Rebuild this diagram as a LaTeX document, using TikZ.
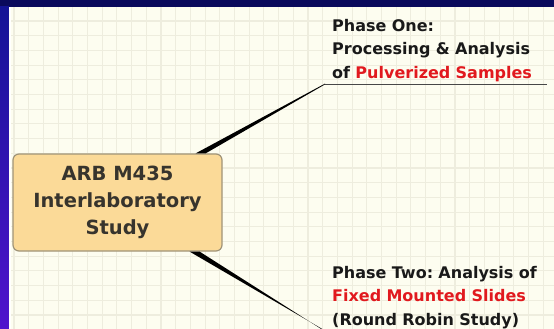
\documentclass[tikz,border=0pt]{standalone}
\usepackage{fontspec}
\setmainfont{DejaVu Sans}
\usetikzlibrary{positioning,calc}
\definecolor{navy}{RGB}{10,10,92}
\definecolor{stripetop}{RGB}{20,20,150}
\definecolor{stripebot}{RGB}{80,20,205}
\definecolor{paper}{RGB}{253,253,240}
\definecolor{gridcol}{RGB}{238,237,222}
\definecolor{boxfill}{RGB}{251,218,152}
\definecolor{boxline}{RGB}{160,148,120}
\definecolor{boxtext}{RGB}{55,52,45}
\definecolor{leaftext}{RGB}{25,25,25}
\definecolor{hot}{RGB}{225,25,30}
\frenchspacing

\begin{document}
\begin{tikzpicture}[x=1pt,y=-1pt,
hub/.style={draw=boxline,line width=1.2pt,fill=boxfill,rounded corners=6pt,minimum width=209pt,minimum height=97pt,align=center,font=\fontsize{19.5}{27}\selectfont\bfseries,text=boxtext},
leaf/.style={anchor=south west,align=left,text width=216pt,inner xsep=7pt,inner ysep=2pt,font=\fontsize{16}{23.5}\selectfont\bfseries,text=leaftext},
branch/.style={fill=black},
gridline/.style={draw=gridcol,line width=1.1pt}]
\useasboundingbox (0,0) rectangle (554,329);
\clip (0,0) rectangle (554,329);
% background
\fill[paper] (0,0) rectangle (554,329);
\foreach \gx in {14,28.7,...,554} \draw[gridline] (\gx,7) -- (\gx,329);
\foreach \gy in {21,35.7,...,329} \draw[gridline] (10,\gy) -- (554,\gy);
\fill[navy] (0,0) rectangle (554,7);
\shade[top color=stripetop,bottom color=stripebot] (0,7) rectangle (9,329);
\fill[white!85!paper] (9,7) rectangle (10.5,329);
% nodes
\node[hub] (hub) at (117.5,202.5) {ARB M435\\Interlaboratory\\Study};
\node[leaf,text width=208pt] (one) at (325,84) {Phase One:\\Processing \& Analysis\\of \textcolor{hot}{Pulverized Samples}};
\node[leaf] (two) at (325,331) {Phase Two: Analysis of\\\textcolor{hot}{Fixed Mounted Slides}\\(Round Robin Study)};
% branches
\fill[branch] ($(hub.north east)+(-27,0)$) -- ($(hub.north east)+(-17,0)$) -- ($(one.south west)+(0,0.4)$) -- ($(one.south west)+(0,-0.4)$) -- cycle;
\fill[branch] ($(hub.south east)+(-33,0)$) -- ($(hub.south east)+(-23,0)$) -- ($(two.south west)+(0,0.4)$) -- ($(two.south west)+(0,-0.4)$) -- cycle;
\draw[leaftext!80,line width=0.8pt] (one.south west) -- (one.south east);
\end{tikzpicture}
\end{document}
